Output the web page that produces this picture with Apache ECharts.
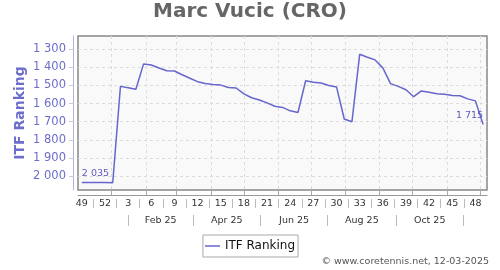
<!DOCTYPE html>
<html>
<head>
<meta charset="utf-8">
<script src="https://cdn.jsdelivr.net/npm/echarts@6/dist/echarts.min.js"></script>
<style>
html,body{margin:0;padding:0;background:#fff;}
#c{width:500px;height:270px;}
</style>
</head>
<body>
<div id="c"></div>
<script>
// ---- data ----
const weeks = ['49','50','51','52','1','2','3','4','5','6','7','8','9','10','11','12','13','14','15','16','17','18','19','20','21','22','23','24','25','26','27','28','29','30','31','32','33','34','35','36','37','38','39','40','41','42','43','44','45','46','47','48','49'];
const ranking = [2035,2035,2036,2036,2037,1505,1513,1521,1381,1387,1404,1419,1420,1441,1460,1479,1489,1495,1498,1511,1514,1546,1568,1580,1596,1615,1621,1640,1649,1474,1482,1486,1500,1508,1685,1700,1328,1344,1359,1403,1490,1505,1524,1562,1530,1538,1546,1549,1556,1557,1574,1585,1715];
const yTicks = [1300,1400,1500,1600,1700,1800,1900,2000];
const monthLabels = ['Feb 25','Apr 25','Jun 25','Aug 25','Oct 25'];
const seriesName = 'ITF Ranking';
const titleText = 'Marc Vucic (CRO)';
const creditText = '\u00A9 www.coretennis.net, 12-03-2025';

// ---- date scale helpers (week bands start Sunday noon) ----
const DAY = 86400000;
const T0 = new Date(2024, 11, 1, 12).getTime();
const T1 = T0 + weeks.length * 7 * DAY;
const monthStarts = [];
for (let m = 0; m < 12; m++) monthStarts.push(new Date(2025, m, 1).getTime());
const weekSeps = [];
for (let k = 2; k < weeks.length - 1; k += 3) weekSeps.push(T0 + k * 7 * DAY);
const monthSeps = [0, 2, 4, 6, 8, 10].map(m => new Date(2025, m, 16).getTime());
const monthLabelPos = [];
for (let i = 0; i < monthSeps.length - 1; i++) monthLabelPos.push((monthSeps[i] + monthSeps[i + 1]) / 2);

const fmt = v => String(v).replace(/\B(?=(\d{3})+(?!\d))/g, ' ');
const FONT = 'DejaVu Sans';
const LINE = '#6666cc';
const LBL = '#6d6dcc';

const seriesData = ranking.map((v, i) => {
  if (i === 0) return {value: v, label: {show: true, position: 'top', align: 'left', distance: 4}};
  if (i === ranking.length - 1) return {value: v, label: {show: true, position: 'top', align: 'right', distance: 4}};
  return v;
});

const chart = echarts.init(document.getElementById('c'), null, {renderer: 'canvas'});
chart.setOption({
  animation: false,
  textStyle: {fontFamily: FONT},
  title: [
    {text: titleText, left: 'center', top: 2, padding: 0,
     textStyle: {fontFamily: FONT, fontSize: 20, fontWeight: 'bold', color: '#666'}},
    {text: creditText, right: 11, top: 257, padding: 0,
     textStyle: {fontFamily: FONT, fontSize: 9.5, fontWeight: 'normal', color: '#555'}}
  ],
  legend: {
    data: [seriesName], left: 'center', top: 235, icon: 'rect', itemWidth: 15, itemHeight: 1.5,
    padding: [5, 3, 5, 2], borderColor: '#aaa', borderWidth: 1, backgroundColor: '#fff',
    textStyle: {fontFamily: FONT, fontSize: 12, color: '#111'}
  },
  grid: {left: 78, right: 13, top: 36, bottom: 80, show: true, backgroundColor: '#f9f9f9', borderColor: '#888', borderWidth: 1.5},
  xAxis: [
    {type: 'category', data: weeks, boundaryGap: true, position: 'bottom', offset: 9,
     axisLine: {show: false}, axisTick: {show: false}, splitLine: {show: false},
     axisLabel: {interval: 2, margin: 0, fontFamily: FONT, fontSize: 9.5, color: '#333'}},
    {type: 'value', min: T0, max: T1, position: 'bottom', offset: 5,
     axisLine: {show: true, lineStyle: {color: '#999', width: 1}},
     axisTick: {show: true, inside: true, length: 5, customValues: monthStarts, lineStyle: {color: '#aaa'}},
     axisLabel: {show: false},
     splitLine: {show: true, lineStyle: {color: '#dcdcdc', type: [3, 3], width: 1}}},
    {type: 'value', min: T0, max: T1, position: 'bottom', offset: 9,
     axisLine: {show: false},
     axisTick: {show: true, length: 9, customValues: weekSeps, lineStyle: {color: '#bbb'}},
     axisLabel: {show: false}, splitLine: {show: false}},
    {type: 'value', min: T0, max: T1, position: 'bottom', offset: 25,
     axisLine: {show: false},
     axisTick: {show: true, length: 11, customValues: monthSeps, lineStyle: {color: '#bbb'}},
     axisLabel: {show: true, margin: 1, customValues: monthLabelPos, fontFamily: FONT, fontSize: 9.5, color: '#333',
       formatter: v => { const i = monthLabelPos.findIndex(p => Math.abs(p - v) < DAY); return i >= 0 ? monthLabels[i] : ''; }},
     splitLine: {show: false}}
  ],
  yAxis: {
    type: 'value', inverse: true, min: 1227, max: 2077, offset: 5,
    name: seriesName, nameLocation: 'middle', nameGap: 46, nameMoveOverlap: false,
    nameTextStyle: {fontFamily: FONT, fontSize: 14, fontWeight: 'bold', color: LBL},
    axisLine: {show: true, lineStyle: {color: '#b4b4e4', width: 1}},
    axisTick: {show: true, length: 4, customValues: yTicks, lineStyle: {color: '#ccc'}},
    axisLabel: {customValues: yTicks, margin: 7, fontFamily: FONT, fontSize: 11.5, color: LBL, formatter: fmt},
    splitLine: {show: true, lineStyle: {color: '#dcdcdc', type: [3, 3], width: 1}}
  },
  series: [{
    name: seriesName, type: 'line', xAxisIndex: 0, data: seriesData,
    symbol: 'circle', symbolSize: 0, showSymbol: true,
    lineStyle: {color: LINE, width: 1.5}, itemStyle: {color: LINE},
    label: {show: false, fontFamily: FONT, fontSize: 9.5, color: '#5c5cbc', formatter: p => fmt(p.value)},
    emphasis: {disabled: true}
  }]
});
</script>
</body>
</html>
